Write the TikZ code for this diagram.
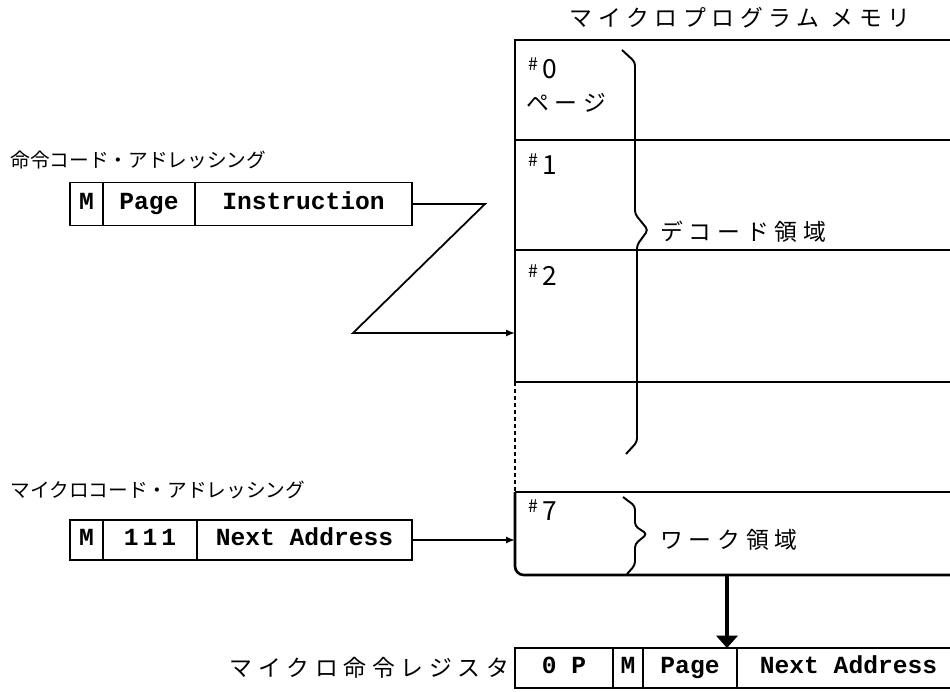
\documentclass[tikz,border=0pt]{standalone}
\usepackage{fontspec}
\setmainfont{Liberation Serif}
\newfontfamily\jpfont{Noto Sans CJK JP}
\newfontfamily\jpwide{Noto Sans CJK JP}[LetterSpace=25]
\newfontfamily\slabfont{Liberation Mono}
\usepackage{tikz}
\usetikzlibrary{arrows.meta,positioning}
\newcommand{\pno}[1]{\raisebox{0.3em}{\fontsize{10}{10}\selectfont\#}\,#1}

\begin{document}
\begin{tikzpicture}[x=0.2mm,y=-0.2mm,>={Latex[length=5pt,width=4pt]},
    cell/.style={draw,line width=1pt,inner sep=0pt,outer sep=0pt,minimum height=8.6mm,text height=9pt,text depth=2.5pt,font=\slabfont\bfseries\fontsize{14}{14}\selectfont},
    regcell/.style={cell,minimum height=8mm},
    jplabel/.style={inner sep=0pt,font=\jpfont\fontsize{11.2}{11.2}\selectfont},
    widelabel/.style={inner sep=0pt,font=\jpwide\fontsize{13}{13}\selectfont},
    pagenum/.style={inner sep=0pt,anchor=west,font=\jpfont\fontsize{15}{15}\selectfont},
    memline/.style={line width=1.5pt},
    bracket/.style={line width=1.1pt,rounded corners=2pt}]
  \useasboundingbox (0,0) rectangle (950,691);
  \draw[memline] (960,40) -- (515,40) -- (515,382);
  \draw[line width=1pt,dash pattern=on 2pt off 2pt] (515,382) -- (515,492);
  \draw[memline,rounded corners=5pt] (515,492) -- (515,575) -- (960,575);
  \foreach \yy in {140,250,382,492} \draw[memline] (515,\yy) -- (960,\yy);
  \draw[bracket] (622,50) -- (635,62) -- (635,214) -- (648,230) -- (637,245) -- (637,442) -- (626,454);
  \draw[bracket] (623,497) -- (635,506) -- (635,526) -- (647,534) -- (635,544) -- (635,565) -- (627,574);
  \node[widelabel] (title) at (740,18) {マイクロプログラム メモリ};
  \node[pagenum] (n0) at (528,68) {\pno{0}};
  \node[widelabel,anchor=west] (pg) at (526,103) {ページ};
  \node[pagenum] (n1) at (528,164) {\pno{1}};
  \node[pagenum] (n2) at (528,275) {\pno{2}};
  \node[pagenum] (n7) at (528,510) {\pno{7}};
  \node[widelabel,anchor=west] (decode) at (660,232) {デコード領域};
  \node[widelabel,anchor=west] (work) at (660,540) {ワーク領域};
  \node[jplabel,anchor=west] (ilabel) at (10,160) {命令コード・アドレッシング};
  \node[cell,minimum width=6.6mm,anchor=west] (im) at (70,204) {M};
  \node[cell,minimum width=18.4mm,right=0pt of im] (ipage) {Page};
  \node[cell,minimum width=43.4mm,right=0pt of ipage] (iins) {Instruction};
  \coordinate (zigA) at (485,204);
  \coordinate (zigB) at (353,333);
  \coordinate (pagein) at (515,333);
  \draw[->,line width=1pt] (iins.east) -- (zigA) -- (zigB) -- (pagein);
  \node[jplabel,anchor=west] (mlabel) at (10,490) {マイクロコード・アドレッシング};
  \node[cell,minimum width=6.6mm,minimum height=8mm,anchor=west] (mm) at (70,540) {M};
  \node[cell,minimum width=18.8mm,minimum height=8mm,right=0pt of mm] (mpage) {1\,1\,1};
  \node[cell,minimum width=43mm,minimum height=8mm,right=0pt of mpage] (mnext) {Next Address};
  \coordinate (workin) at (515,540);
  \draw[->,line width=1pt] (mnext.east) -- (workin);
  \node[regcell,minimum width=19.6mm,anchor=west] (rop) at (515,668) {0 P};
  \node[regcell,minimum width=6mm,right=0pt of rop] (rm) {M};
  \node[regcell,minimum width=18.8mm,right=0pt of rm] (rpage) {Page};
  \node[regcell,minimum width=44.6mm,right=0pt of rpage] (rnext) {Next Address};
  \node[widelabel,left=3pt of rop] (rlabel) {マイクロ命令レジスタ};
  \coordinate (memout) at (727,575);
  \draw[-{Triangle[length=7pt,width=12pt]},line width=2.2pt] (memout) -- (memout |- rpage.north);
\end{tikzpicture}
\end{document}
